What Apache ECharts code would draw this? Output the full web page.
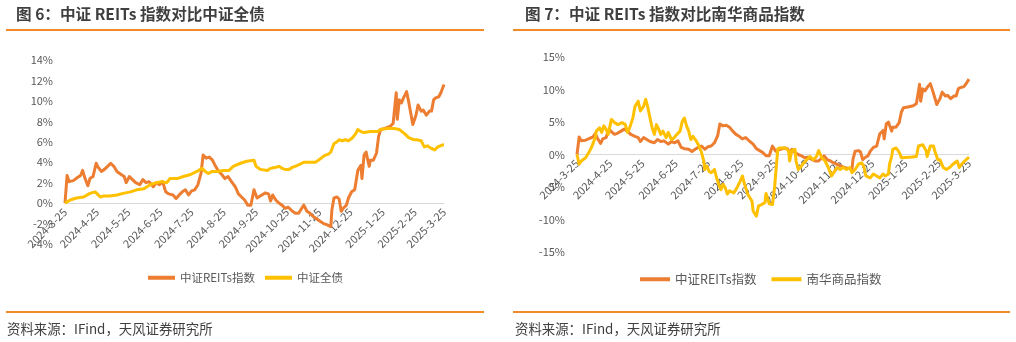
<!DOCTYPE html>
<html>
<head>
<meta charset="utf-8">
<script src="https://cdn.jsdelivr.net/npm/echarts@6/dist/echarts.min.js"></script>
<style>
  html, body { margin: 0; padding: 0; background: #fff; }
  #wrap { position: relative; width: 1016px; height: 342px; }
  .panel { position: absolute; top: 0; width: 508px; height: 342px; }
</style>
</head>
<body>
<div id="wrap">
  <div id="left" class="panel" style="left:0"></div>
  <div id="right" class="panel" style="left:508px"></div>
</div>
<script>
// Cumulative return (%) since 2024-3-25, sampled dates
const reitsIndex = [
  ['2024-3-25',0],['2024-3-27',2.7],['2024-3-29',2.1],['2024-4-2',2.2],['2024-4-6',2.5],['2024-4-9',2.7],
  ['2024-4-11',3.2],['2024-4-13',2.5],['2024-4-16',1.7],['2024-4-18',2.4],['2024-4-21',2.6],['2024-4-24',3.9],
  ['2024-4-26',3.5],['2024-4-29',3.1],['2024-5-2',3.3],['2024-5-5',3.6],['2024-5-8',3.9],['2024-5-11',3.6],
  ['2024-5-14',3.1],['2024-5-18',2.8],['2024-5-21',2.6],['2024-5-23',2.0],['2024-5-26',2.6],['2024-5-29',2.3],
  ['2024-6-1',2.0],['2024-6-5',1.8],['2024-6-8',2.3],['2024-6-11',2.0],['2024-6-14',2.1],['2024-6-18',1.6],
  ['2024-6-21',2.0],['2024-6-24',1.8],['2024-6-27',2.1],['2024-6-30',1.1],['2024-7-3',0.9],['2024-7-7',0.8],
  ['2024-7-10',0.45],['2024-7-13',0.8],['2024-7-16',1.1],['2024-7-19',1.3],['2024-7-22',0.8],['2024-7-25',1.2],
  ['2024-7-28',1.3],['2024-7-31',1.8],['2024-8-3',2.9],['2024-8-5',4.7],['2024-8-8',4.4],['2024-8-11',4.5],
  ['2024-8-14',4.2],['2024-8-17',3.6],['2024-8-20',3.1],['2024-8-23',2.8],['2024-8-26',2.4],['2024-8-29',2.6],
  ['2024-9-2',2.0],['2024-9-5',1.6],['2024-9-8',0.9],['2024-9-11',0.6],['2024-9-14',0.3],['2024-9-17',-0.2],
  ['2024-9-20',-0.2],['2024-9-23',1.3],['2024-9-26',0.5],['2024-9-29',0.7],['2024-10-4',1.0],['2024-10-7',0.9],
  ['2024-10-9',0.2],['2024-10-11',0.8],['2024-10-14',0.3],['2024-10-17',0.0],['2024-10-20',-0.2],['2024-10-23',-0.5],
  ['2024-10-26',-0.4],['2024-10-30',-0.8],['2024-11-2',-1.0],['2024-11-5',-1.0],['2024-11-8',-0.5],['2024-11-10',-0.2],
  ['2024-11-13',-0.8],['2024-11-16',-1.0],['2024-11-19',-1.3],['2024-11-22',-1.5],['2024-11-26',-1.8],['2024-11-29',-2.0],
  ['2024-12-2',-2.1],['2024-12-6',-2.3],['2024-12-7',-0.7],['2024-12-9',0.5],['2024-12-12',0.6],['2024-12-14',0.4],
  ['2024-12-16',-0.8],['2024-12-18',-0.5],['2024-12-21',-0.2],['2024-12-23',0.5],['2024-12-26',1.1],['2024-12-29',1.3],
  ['2025-1-1',3.2],['2025-1-4',3.7],['2025-1-5',2.4],['2025-1-7',4.7],['2025-1-9',5.0],['2025-1-10',4.5],
  ['2025-1-12',3.6],['2025-1-13',4.2],['2025-1-16',4.2],['2025-1-19',4.9],['2025-1-21',6.5],['2025-1-23',7.2],
  ['2025-1-27',7.3],['2025-2-1',7.5],['2025-2-4',7.8],['2025-2-7',10.8],['2025-2-8',8.2],['2025-2-10',10.1],
  ['2025-2-12',9.8],['2025-2-14',10.3],['2025-2-17',10.9],['2025-2-19',9.9],['2025-2-21',8.8],['2025-2-23',7.7],
  ['2025-2-26',8.6],['2025-2-28',9.6],['2025-3-3',9.0],['2025-3-5',9.1],['2025-3-8',8.6],['2025-3-11',9.0],
  ['2025-3-13',9.0],['2025-3-15',10.1],['2025-3-17',10.3],['2025-3-20',10.4],['2025-3-22',10.8],['2025-3-25',11.6]
];

const csiAggBond = [
  ['2024-3-25',0],['2024-3-30',0.3],['2024-4-5',0.5],['2024-4-12',0.6],['2024-4-18',0.95],['2024-4-23',1.1],
  ['2024-4-26',0.8],['2024-4-28',0.6],['2024-5-1',0.7],['2024-5-7',0.7],['2024-5-14',0.8],['2024-5-20',0.95],
  ['2024-5-27',1.1],['2024-6-2',1.3],['2024-6-9',1.4],['2024-6-15',1.8],['2024-6-21',2.0],['2024-6-26',2.1],
  ['2024-7-1',2.0],['2024-7-4',2.4],['2024-7-11',2.4],['2024-7-17',2.6],['2024-7-24',2.8],['2024-7-30',3.1],
  ['2024-8-4',3.4],['2024-8-7',3.1],['2024-8-10',2.9],['2024-8-14',3.1],['2024-8-18',3.1],['2024-8-25',3.2],
  ['2024-8-30',3.2],['2024-9-3',3.6],['2024-9-10',3.9],['2024-9-16',4.1],['2024-9-23',4.2],['2024-9-25',3.6],
  ['2024-9-29',3.3],['2024-10-6',3.2],['2024-10-9',3.4],['2024-10-14',3.5],['2024-10-17',3.6],['2024-10-20',3.4],
  ['2024-10-23',3.3],['2024-10-27',3.3],['2024-10-30',3.5],['2024-11-4',3.7],['2024-11-10',4.0],['2024-11-16',4.0],
  ['2024-11-21',4.0],['2024-11-24',4.2],['2024-11-28',4.5],['2024-12-1',4.7],['2024-12-4',4.8],['2024-12-6',5.0],
  ['2024-12-9',5.8],['2024-12-12',6.0],['2024-12-14',6.2],['2024-12-17',6.1],['2024-12-20',6.2],['2024-12-23',6.1],
  ['2024-12-27',6.4],['2024-12-30',6.8],['2025-1-1',7.2],['2025-1-4',7.0],['2025-1-7',6.9],['2025-1-13',7.0],
  ['2025-1-20',7.0],['2025-1-23',7.2],['2025-1-29',7.3],['2025-2-5',7.3],['2025-2-10',7.2],['2025-2-15',6.8],
  ['2025-2-19',6.4],['2025-2-24',6.2],['2025-2-27',6.2],['2025-3-3',6.1],['2025-3-6',5.5],['2025-3-9',5.6],
  ['2025-3-12',5.4],['2025-3-16',5.2],['2025-3-19',5.5],['2025-3-24',5.7],['2025-3-25',5.7]
];

const nanhuaCommodity = [
  ['2024-3-25',0],['2024-3-27',-1.5],['2024-3-29',-1.0],['2024-4-2',-0.5],['2024-4-5',0.3],['2024-4-8',1.3],
  ['2024-4-11',2.6],['2024-4-12',3.6],['2024-4-15',4.1],['2024-4-17',3.4],['2024-4-19',4.4],['2024-4-21',3.9],
  ['2024-4-23',3.1],['2024-4-25',4.6],['2024-4-26',5.4],['2024-4-29',4.9],['2024-5-2',4.6],['2024-5-6',4.9],
  ['2024-5-9',4.6],['2024-5-11',3.4],['2024-5-13',4.1],['2024-5-16',5.6],['2024-5-18',7.4],['2024-5-21',8.2],
  ['2024-5-23',6.7],['2024-5-26',7.4],['2024-5-28',8.5],['2024-5-30',7.2],['2024-6-1',5.6],['2024-6-3',4.1],
  ['2024-6-5',3.1],['2024-6-7',4.6],['2024-6-9',3.9],['2024-6-11',3.1],['2024-6-13',3.6],['2024-6-16',2.6],
  ['2024-6-18',3.4],['2024-6-21',2.3],['2024-6-23',2.5],['2024-6-26',3.1],['2024-6-29',3.6],['2024-7-1',5.1],
  ['2024-7-3',5.6],['2024-7-5',4.4],['2024-7-7',3.6],['2024-7-9',2.3],['2024-7-11',2.8],['2024-7-14',2.1],
  ['2024-7-16',1.5],['2024-7-19',0.3],['2024-7-21',-1.0],['2024-7-22',-2.3],['2024-7-24',-1.8],['2024-7-26',-2.6],
  ['2024-7-28',-2.8],['2024-7-31',-2.3],['2024-8-2',-3.6],['2024-8-4',-4.6],['2024-8-6',-5.4],['2024-8-8',-4.6],
  ['2024-8-10',-5.1],['2024-8-12',-6.1],['2024-8-14',-5.6],['2024-8-18',-5.9],['2024-8-21',-5.1],['2024-8-24',-4.1],
  ['2024-8-26',-3.3],['2024-8-28',-4.6],['2024-8-31',-6.1],['2024-9-4',-7.2],['2024-9-5',-8.7],['2024-9-8',-9.5],
  ['2024-9-10',-7.9],['2024-9-13',-7.7],['2024-9-16',-7.4],['2024-9-17',-6.0],['2024-9-20',-7.6],['2024-9-23',-7.7],
  ['2024-9-25',-5.0],['2024-9-28',0.9],['2024-9-30',1.0],['2024-10-5',1.0],['2024-10-8',0.6],['2024-10-9',-1.0],
  ['2024-10-11',0.6],['2024-10-14',0.8],['2024-10-15',-1.0],['2024-10-17',-2.3],['2024-10-19',-2.0],['2024-10-22',-1.3],
  ['2024-10-25',-0.8],['2024-10-28',-0.3],['2024-10-31',-0.8],['2024-11-3',-0.3],['2024-11-5',0.6],['2024-11-6',0.3],
  ['2024-11-8',-0.5],['2024-11-11',-1.0],['2024-11-14',-2.0],['2024-11-17',-3.3],['2024-11-19',-2.8],['2024-11-22',-2.0],
  ['2024-11-25',-2.3],['2024-11-28',-2.0],['2024-12-1',-2.3],['2024-12-4',-2.0],['2024-12-6',-2.8],['2024-12-9',-2.3],
  ['2024-12-12',-1.5],['2024-12-15',-1.3],['2024-12-17',-1.8],['2024-12-19',-3.3],['2024-12-23',-3.6],['2024-12-26',-3.0],
  ['2024-12-29',-3.3],['2025-1-1',-3.6],['2025-1-4',-3.0],['2025-1-6',-3.3],['2025-1-9',-3.0],['2025-1-10',-1.5],
  ['2025-1-12',-0.3],['2025-1-13',0.8],['2025-1-16',1.0],['2025-1-18',0.6],['2025-1-20',0.0],['2025-1-21',-0.5],
  ['2025-1-31',-0.4],['2025-2-4',-0.3],['2025-2-6',1.3],['2025-2-7',1.5],['2025-2-10',1.5],['2025-2-13',0.6],
  ['2025-2-14',-0.3],['2025-2-17',1.3],['2025-2-18',1.5],['2025-2-20',1.3],['2025-2-21',0.6],['2025-2-24',-0.8],
  ['2025-2-26',-0.8],['2025-3-1',-2.0],['2025-3-4',-2.3],['2025-3-7',-2.0],['2025-3-10',-1.5],['2025-3-14',-1.0],
  ['2025-3-16',-2.0],['2025-3-18',-1.5],['2025-3-21',-1.0],['2025-3-25',-0.4]
];

const tickLabels = ['2024-3-25','2024-4-25','2024-5-25','2024-6-25','2024-7-25','2024-8-25','2024-9-25',
  '2024-10-25','2024-11-25','2024-12-25','2025-1-25','2025-2-25','2025-3-25'];

const seriesNames = { reits: '中证REITs指数', bond: '中证全债', commodity: '南华商品指数' };
const ORANGE = '#ED7D31', YELLOW = '#FFC000', RULE = '#F28A2A';
const FONT = '"Noto Sans CJK SC", "Noto Sans", sans-serif';

// Calendar days from first to last tick label form the category axis
const calendar = [];
(function () {
  let t = Date.UTC(2024, 2, 25);
  const end = Date.UTC(2025, 2, 25);
  while (t <= end) {
    const d = new Date(t);
    calendar.push(d.getUTCFullYear() + '-' + (d.getUTCMonth() + 1) + '-' + d.getUTCDate());
    t += 86400000;
  }
})();
const dayIndex = {};
calendar.forEach((c, i) => { dayIndex[c] = i; });
const tickSet = new Set(tickLabels);
const toPoints = arr => arr.map(([d, v]) => [dayIndex[d], v]);

function panelOption(cfg) {
  // the date axis sits on the 0% level: shift it up from the grid bottom
  const gridHeight = 342 - cfg.grid.top - cfg.grid.bottom;
  const zeroOffset = -gridHeight * (0 - cfg.yMin) / (cfg.yMax - cfg.yMin);
  return {
    animation: false,
    textStyle: { fontFamily: FONT },
    title: [
      { text: cfg.title, left: cfg.titleLeft, top: 6, padding: 0,
        textStyle: { fontSize: 15.6, fontWeight: 'bold', color: '#3F3F3F', fontFamily: FONT } },
      { text: '资料来源：IFind，天风证券研究所', left: 7, top: 322, padding: 0,
        textStyle: { fontSize: 13.4, fontWeight: 'normal', color: '#404040', fontFamily: FONT } }
    ],
    graphic: [
      { type: 'line', shape: { x1: cfg.ruleX1, y1: 30, x2: cfg.ruleX2, y2: 30 }, style: { stroke: RULE, lineWidth: 2 } },
      { type: 'line', shape: { x1: cfg.ruleX1, y1: 312, x2: cfg.ruleX2, y2: 312 }, style: { stroke: RULE, lineWidth: 2 } }
    ],
    legend: {
      left: cfg.legendLeft, top: cfg.legendTop, icon: 'rect', padding: 0,
      itemWidth: cfg.legendIcon, itemHeight: 4, itemGap: cfg.legendGap,
      textStyle: { fontSize: cfg.legendFont, color: '#595959', fontFamily: FONT },
      data: cfg.series.map(s => s.name)
    },
    grid: cfg.grid,
    xAxis: {
      type: 'category', data: calendar, boundaryGap: false,
      position: 'bottom', offset: zeroOffset,
      axisLine: { onZero: false, lineStyle: { color: '#D9D9D9', width: 1 } },
      axisTick: { show: false },
      axisLabel: {
        interval: (i, v) => tickSet.has(v), rotate: 45, margin: 7,
        fontSize: 11, color: '#595959', fontFamily: FONT
      },
      splitLine: { show: false }
    },
    yAxis: {
      type: 'value', min: cfg.yMin, max: cfg.yMax, interval: cfg.yStep,
      axisLine: { show: false }, axisTick: { show: false }, splitLine: { show: false },
      axisLabel: { formatter: '{value}%', fontSize: 11, color: '#595959', margin: 12, fontFamily: FONT }
    },
    series: cfg.series.map(s => ({
      name: s.name, type: 'line', data: toPoints(s.data), showSymbol: false,
      color: s.color, lineStyle: { width: 3, color: s.color, join: 'round' }
    }))
  };
}

const leftChart = echarts.init(document.getElementById('left'), null, { renderer: 'canvas' });
leftChart.setOption(panelOption({
  title: '图 6：中证 REITs 指数对比中证全债', titleLeft: 16,
  ruleX1: 6, ruleX2: 484,
  legendLeft: 148, legendTop: 272, legendIcon: 27, legendGap: 10, legendFont: 11.5,
  grid: { left: 65, right: 64, top: 60, bottom: 98 },
  yMin: -4, yMax: 14, yStep: 2,
  series: [
    { name: seriesNames.reits, data: reitsIndex, color: ORANGE },
    { name: seriesNames.bond, data: csiAggBond, color: YELLOW }
  ]
}));

const rightChart = echarts.init(document.getElementById('right'), null, { renderer: 'canvas' });
rightChart.setOption(panelOption({
  title: '图 7：中证 REITs 指数对比南华商品指数', titleLeft: 17,
  ruleX1: 5, ruleX2: 502,
  legendLeft: 132, legendTop: 273, legendIcon: 30, legendGap: 15, legendFont: 12.5,
  grid: { left: 69, right: 47, top: 57, bottom: 90 },
  yMin: -15, yMax: 15, yStep: 5,
  series: [
    { name: seriesNames.reits, data: reitsIndex, color: ORANGE },
    { name: seriesNames.commodity, data: nanhuaCommodity, color: YELLOW }
  ]
}));
</script>
</body>
</html>
